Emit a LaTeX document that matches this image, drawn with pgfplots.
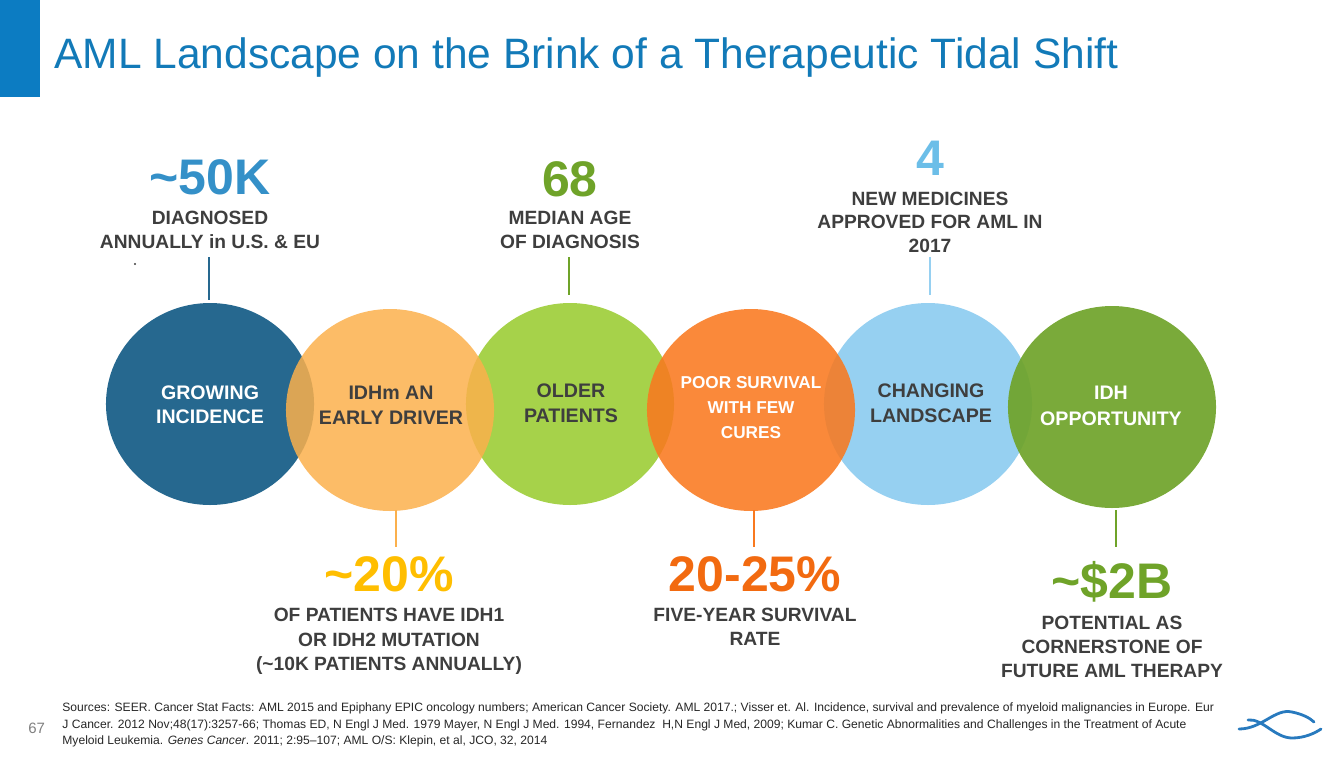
\documentclass[border=0pt]{standalone}
\usepackage{pgfplots}
\pgfplotsset{compat=1.18}
\usepackage{fontspec}
\setmainfont{Liberation Sans}
\definecolor{cblue}{RGB}{38,104,143}
\definecolor{corange}{RGB}{251,176,76}
\definecolor{clgreen}{RGB}{166,210,74}
\definecolor{cdorange}{RGB}{249,121,31}
\definecolor{clblue}{RGB}{150,208,241}
\definecolor{cdgreen}{RGB}{111,163,41}
\definecolor{ctitle}{RGB}{18,122,184}
\definecolor{cbar}{RGB}{12,124,194}
\definecolor{c50k}{RGB}{52,144,200}
\definecolor{cfour}{RGB}{108,190,232}
\definecolor{cyellow}{RGB}{255,190,0}
\definecolor{cnum}{RGB}{242,106,16}
\definecolor{cgray}{RGB}{62,62,62}
\definecolor{clogo}{RGB}{40,122,190}
\newcommand{\T}[5]{\node[anchor=base,text=#4,font=#5,inner sep=0pt] at (axis cs:#1,#2) {#3};}
\newcommand{\bignum}{\fontsize{25}{30}\selectfont\bfseries}
\newcommand{\lab}{\fontsize{9.6}{11}\selectfont\bfseries}
\newcommand{\clab}{\fontsize{9.8}{11}\selectfont\bfseries}
\newcommand{\slab}{\fontsize{8.6}{10}\selectfont\bfseries}
\newcommand{\src}{\fontsize{6.05}{7}\selectfont}
\pgfplotsset{slide/.style={
  scale only axis, width=672pt, height=378pt,
  xmin=0, xmax=1344, ymin=0, ymax=756, y dir=reverse,
  hide axis, clip=false, anchor=south west, at={(0,0)}}}
\begin{document}
\begin{tikzpicture}
\begin{axis}[slide]
\coordinate (TL) at (axis cs:0,0);
\coordinate (BR) at (axis cs:1344,756);
% header bar
\fill[cbar] (axis cs:0,0) rectangle (axis cs:40,97);
% circles (opaque)
\addplot[only marks, mark=*, mark size=50.5pt, color=cblue, mark options={draw opacity=0, xscale=1.03}] coordinates {(210,404)};
\addplot[only marks, mark=*, mark size=50.5pt, color=clgreen, mark options={draw opacity=0, xscale=1.03}] coordinates {(570,404)};
\addplot[only marks, mark=*, mark size=50.5pt, color=clblue, mark options={draw opacity=0, xscale=1.03}] coordinates {(928,404)};
% circles (translucent, on top)
\addplot[only marks, mark=*, mark size=50.5pt, color=corange, mark options={draw opacity=0, fill opacity=0.85, xscale=1.03}] coordinates {(390,410)};
\addplot[only marks, mark=*, mark size=50.5pt, color=cdorange, mark options={draw opacity=0, fill opacity=0.88, xscale=1.03}] coordinates {(751,410)};
\addplot[only marks, mark=*, mark size=50.5pt, color=cdgreen, mark options={draw opacity=0, fill opacity=0.92, xscale=1.03}] coordinates {(1112,407)};
% connector lines
\draw[cblue, line width=1pt] (axis cs:209,257) -- (axis cs:209,300);
\draw[cdgreen, line width=1pt] (axis cs:569,257) -- (axis cs:569,295);
\draw[clblue, line width=1pt] (axis cs:930,257) -- (axis cs:930,295);
\draw[corange, line width=1pt] (axis cs:396,510) -- (axis cs:396,547);
\draw[cdorange, line width=1pt] (axis cs:754,510) -- (axis cs:754,547);
\draw[cdgreen, line width=1pt] (axis cs:1116,510) -- (axis cs:1116,547);
\fill[cgray] (axis cs:135,264) circle[radius=0.6pt];
% logo
\draw[clogo, line width=1.4pt, line cap=round] (axis cs:1239,729) .. controls (axis cs:1262,729) and (axis cs:1275,708) .. (axis cs:1292,712) .. controls (axis cs:1302,714) and (axis cs:1310,718) .. (axis cs:1314,722);
\draw[clogo, line width=1.4pt, line cap=round] (axis cs:1248,720) .. controls (axis cs:1262,718) and (axis cs:1275,738) .. (axis cs:1292,738) .. controls (axis cs:1305,738) and (axis cs:1315,733) .. (axis cs:1321,729);
\end{axis}
\begin{axis}[slide]
\node[anchor=base west,text=ctitle,font=\fontsize{21.25}{26}\selectfont,inner sep=0pt] at (axis cs:54,68) {AML Landscape on the Brink of a Therapeutic Tidal Shift};
% top figures
\T{210}{194}{\char`\~50K}{c50k}{\bignum}
\T{210}{224}{DIAGNOSED}{cgray}{\lab}
\T{210}{248}{ANNUALLY in U.S. \& EU}{cgray}{\lab}
\T{570}{196}{68}{cdgreen}{\bignum}
\T{570}{224}{MEDIAN AGE}{cgray}{\lab}
\T{570}{248}{OF DIAGNOSIS}{cgray}{\lab}
\T{930}{175}{4}{cfour}{\bignum}
\T{930}{205}{NEW MEDICINES}{cgray}{\lab}
\T{930}{228}{APPROVED FOR AML IN}{cgray}{\lab}
\T{930}{252}{2017}{cgray}{\lab}
% circle labels
\T{210}{399}{GROWING}{white}{\clab}
\T{210}{423}{INCIDENCE}{white}{\clab}
\T{391}{399}{IDHm AN}{cgray}{\clab}
\T{391}{424}{EARLY DRIVER}{cgray}{\clab}
\T{571}{397}{OLDER}{cgray}{\clab}
\T{571}{422}{PATIENTS}{cgray}{\clab}
\T{751}{388}{POOR SURVIVAL}{white}{\slab}
\T{751}{413}{WITH FEW}{white}{\slab}
\T{751}{438}{CURES}{white}{\slab}
\T{931}{397}{CHANGING}{cgray}{\clab}
\T{931}{422}{LANDSCAPE}{cgray}{\clab}
\T{1111}{399}{IDH}{white}{\clab}
\T{1111}{425}{OPPORTUNITY}{white}{\clab}
% bottom figures
\T{389}{591}{\char`\~20\%}{cyellow}{\bignum}
\T{389}{621}{OF PATIENTS HAVE IDH1}{cgray}{\lab}
\T{389}{646}{OR IDH2 MUTATION}{cgray}{\lab}
\T{389}{670}{(\char`\~10K PATIENTS ANNUALLY)}{cgray}{\lab}
\T{755}{591}{20-25\%}{cnum}{\bignum}
\T{755}{621}{FIVE-YEAR SURVIVAL}{cgray}{\lab}
\T{755}{645}{RATE}{cgray}{\lab}
\T{1112}{598}{\char`\~\$2B}{cdgreen}{\bignum}
\T{1112}{629}{POTENTIAL AS}{cgray}{\lab}
\T{1112}{653}{CORNERSTONE OF}{cgray}{\lab}
\T{1112}{677}{FUTURE AML THERAPY}{cgray}{\lab}
% sources
\node[anchor=base west,text=black!85,font=\src,inner sep=0pt] at (axis cs:62,711) {Sources: SEER. Cancer Stat Facts: AML 2015 and Epiphany EPIC oncology numbers; American Cancer Society. AML 2017.; Visser et. Al. Incidence, survival and prevalence of myeloid malignancies in Europe. Eur};
\node[anchor=base west,text=black!85,font=\src,inner sep=0pt] at (axis cs:62,728) {J Cancer. 2012 Nov;48(17):3257-66; Thomas ED, N Engl J Med. 1979 Mayer, N Engl J Med. 1994, Fernandez\ \ H,N Engl J Med, 2009; Kumar C. Genetic Abnormalities and Challenges in the Treatment of Acute};
\node[anchor=base west,text=black!85,font=\src,inner sep=0pt] at (axis cs:62,744) {Myeloid Leukemia. \textit{Genes Cancer}. 2011; 2:95--107; AML O/S: Klepin, et al, JCO, 32, 2014};
\node[anchor=base west,text=black!50,font=\fontsize{7.5}{9}\selectfont,inner sep=0pt] at (axis cs:28,733) {67};
\end{axis}
\pgfresetboundingbox
\path[use as bounding box] (TL) rectangle (BR);
\end{tikzpicture}
\end{document}
